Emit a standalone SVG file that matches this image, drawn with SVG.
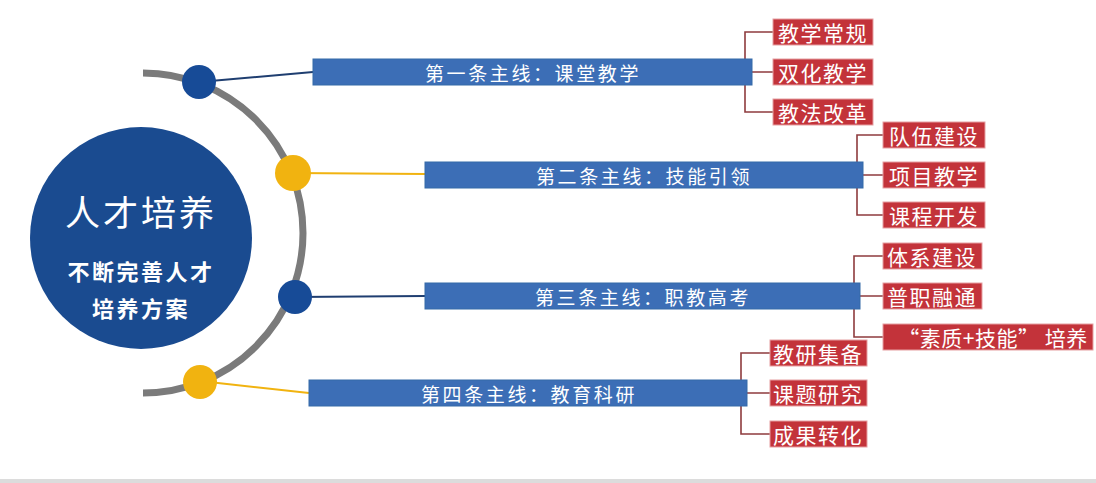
<svg xmlns="http://www.w3.org/2000/svg" width="1096" height="483" viewBox="0 0 1096 483">
<style>
text{font-family:"Noto Sans CJK SC","Noto Sans",sans-serif;fill:#ffffff;text-anchor:middle;dominant-baseline:central}
.bar{fill:#3c6eb6;stroke:#356aa8;stroke-width:1}
.bt{font-size:19px;letter-spacing:2.6px}
.box{fill:#c3333a;stroke:#e6a0a2;stroke-width:1}
.xt{font-size:21px;letter-spacing:1.5px}
.br{fill:none;stroke:#8e3b3e;stroke-width:1.6}
.dotb{fill:#174b97}
.doty{fill:#f1b310}
</style>
<rect x="0" y="0" width="1096" height="483" fill="#ffffff"/>
<rect x="0" y="479" width="1096" height="4" fill="#dcdcdc"/>

<g id="arc">
<path d="M 143 73 A 160 160 0 0 1 143 393" fill="none" stroke="#7b7b7b" stroke-width="7"/>
</g>

<g id="connectors">
<line x1="199" y1="82" x2="313" y2="72" stroke="#1f3e70" stroke-width="2"/>
<line x1="293" y1="173" x2="425" y2="174" stroke="#f1b310" stroke-width="2"/>
<line x1="295" y1="297" x2="425" y2="296" stroke="#1f3e70" stroke-width="2"/>
<line x1="200" y1="381" x2="309" y2="393" stroke="#f1b310" stroke-width="2"/>
<path class="br" d="M773 32 H745 V112 H773 M752 72 H773"/>
<path class="br" d="M883 135 H857 V215 H883 M863 175 H883"/>
<path class="br" d="M883 256 H854 V337 H883 M860 296 H883"/>
<path class="br" d="M770 353 H741 V434 H770 M747 393 H770"/>
</g>

<g id="center">
<circle cx="141" cy="238" r="111" fill="#1a4b90"/>
<text x="141" y="210" style="font-size:35px;letter-spacing:3px">人才培养</text>
<text x="141" y="270" style="font-size:22px;font-weight:bold;letter-spacing:2.5px">不断完善人才</text>
<text x="141" y="307" style="font-size:22px;font-weight:bold;letter-spacing:2.5px">培养方案</text>
</g>

<g id="dot1"><circle class="dotb" cx="199" cy="82" r="17"/></g>
<g id="dot2"><circle class="doty" cx="293" cy="173" r="18"/></g>
<g id="dot3"><circle class="dotb" cx="295" cy="297" r="17"/></g>
<g id="dot4"><circle class="doty" cx="200" cy="382" r="17"/></g>

<g id="line1">
<rect class="bar" x="313" y="59" width="439" height="26"/>
<text class="bt" x="533" y="72">第一条主线：课堂教学</text>
</g>
<g id="line2">
<rect class="bar" x="425" y="162" width="438" height="26"/>
<text class="bt" x="644" y="175">第二条主线：技能引领</text>
</g>
<g id="line3">
<rect class="bar" x="425" y="283" width="435" height="26"/>
<text class="bt" x="643" y="296">第三条主线：职教高考</text>
</g>
<g id="line4">
<rect class="bar" x="309" y="380" width="438" height="26"/>
<text class="bt" x="529" y="393">第四条主线：教育科研</text>
</g>

<g id="l1a"><rect class="box" x="773" y="19" width="100" height="26"/><text class="xt" x="823" y="32">教学常规</text></g>
<g id="l1b"><rect class="box" x="773" y="59" width="100" height="26"/><text class="xt" x="823" y="72">双化教学</text></g>
<g id="l1c"><rect class="box" x="773" y="99" width="100" height="26"/><text class="xt" x="823" y="112">教法改革</text></g>

<g id="l2a"><rect class="box" x="883" y="122" width="102" height="26"/><text class="xt" x="934" y="135">队伍建设</text></g>
<g id="l2b"><rect class="box" x="883" y="162" width="102" height="26"/><text class="xt" x="934" y="175">项目教学</text></g>
<g id="l2c"><rect class="box" x="883" y="202" width="102" height="26"/><text class="xt" x="934" y="215">课程开发</text></g>

<g id="l3a"><rect class="box" x="883" y="243" width="99" height="26"/><text class="xt" x="932" y="256">体系建设</text></g>
<g id="l3b"><rect class="box" x="883" y="283" width="99" height="26"/><text class="xt" x="932" y="296">普职融通</text></g>
<g id="l3c"><rect class="box" x="883" y="324" width="210" height="26"/><text class="xt" x="993" y="337" style="letter-spacing:0.5px">“素质+技能” 培养</text></g>

<g id="l4a"><rect class="box" x="770" y="340" width="97" height="26"/><text class="xt" x="818" y="353">教研集备</text></g>
<g id="l4b"><rect class="box" x="770" y="380" width="97" height="26"/><text class="xt" x="818" y="393">课题研究</text></g>
<g id="l4c"><rect class="box" x="770" y="421" width="97" height="26"/><text class="xt" x="818" y="434">成果转化</text></g>
</svg>
